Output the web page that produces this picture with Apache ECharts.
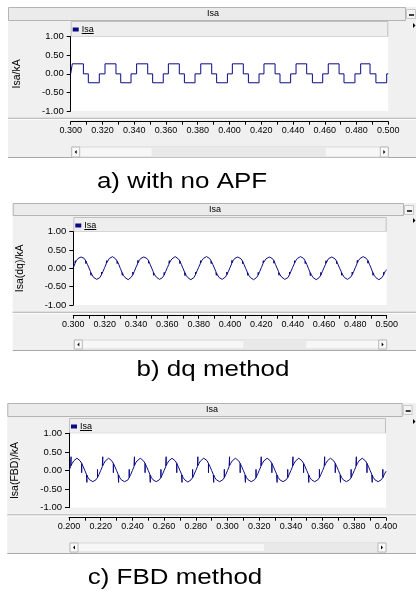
<!DOCTYPE html>
<html><head><meta charset="utf-8">
<script src="https://cdn.jsdelivr.net/npm/echarts@6/dist/echarts.min.js"></script>
<style>html,body{margin:0;padding:0;background:#fff;}#c{width:416px;height:593px;}</style>
</head><body><div id="c"></div>
<script>
// ---------- DATA ----------
// a) with no APF : step waveform, [time, value from this time on]
const stepTimesA = [0.300,0.3010,0.3080,0.3111,0.3180,0.3216,0.3285,0.3315,0.3380,0.3415,0.3485,0.3516,0.3583,
  0.3615,0.3684,0.3716,0.3783,0.3819,0.3888,0.3919,0.3987,0.4018,0.4087,0.4119,0.4186,0.4217,0.4287,0.4318,
  0.4385,0.4419,0.4486,0.4522,0.4587,0.4622,0.4690,0.4721,0.4790,0.4826,0.4885,0.4922,0.4990,0.5000];
const stepValsA = [0,0.27,0,-0.24,0,0.27,0,-0.24,0,0.27,0,-0.24,0,
  0.27,0,-0.24,0,0.27,0,-0.24,0,0.27,0,-0.24,0,0.27,0,-0.24,
  0,0.27,0,-0.24,0,0.27,0,-0.24,0,0.27,0,-0.24,0,0];

// b) dq method : samples every 1 ms from 0.300 s
const startB = 0.300, stepB = 0.001;
const valsB = [
 0.02,0.12,0.21,0.27,0.30,0.31,0.30,0.27,0.20,0.11,0.01,-0.09,-0.18,-0.25,-0.29,-0.30,-0.29,-0.25,-0.17,-0.08,
 0.02,0.12,0.20,0.27,0.30,0.32,0.30,0.26,0.20,0.11,0.00,-0.10,-0.19,-0.25,-0.29,-0.31,-0.29,-0.24,-0.17,-0.08,
 0.03,0.12,0.21,0.27,0.30,0.31,0.31,0.27,0.21,0.11,0.01,-0.09,-0.18,-0.24,-0.29,-0.30,-0.29,-0.25,-0.18,-0.08,
 0.02,0.11,0.20,0.26,0.30,0.32,0.30,0.26,0.20,0.10,0.00,-0.10,-0.19,-0.25,-0.29,-0.31,-0.30,-0.25,-0.17,-0.07,
 0.03,0.12,0.21,0.27,0.31,0.32,0.30,0.27,0.20,0.11,0.01,-0.09,-0.18,-0.25,-0.29,-0.30,-0.29,-0.24,-0.17,-0.08,
 0.02,0.12,0.21,0.27,0.30,0.31,0.30,0.26,0.20,0.10,0.00,-0.10,-0.19,-0.25,-0.30,-0.31,-0.29,-0.25,-0.18,-0.08,
 0.02,0.12,0.20,0.26,0.30,0.31,0.30,0.27,0.21,0.11,0.01,-0.09,-0.18,-0.24,-0.29,-0.30,-0.29,-0.25,-0.17,-0.07,
 0.03,0.12,0.21,0.27,0.30,0.32,0.31,0.27,0.20,0.11,0.00,-0.10,-0.18,-0.25,-0.29,-0.31,-0.30,-0.25,-0.18,-0.08,
 0.02,0.11,0.20,0.27,0.30,0.31,0.30,0.26,0.20,0.10,0.00,-0.09,-0.18,-0.25,-0.29,-0.30,-0.29,-0.24,-0.17,-0.08,
 0.02,0.12,0.21,0.27,0.30,0.32,0.30,0.27,0.21,0.11,0.01,-0.10,-0.19,-0.25,-0.30,-0.31,-0.29,-0.25,-0.18,-0.08,
 -0.04];
// glitches [time, base, tip]
const glitchB = [
 [0.3013,0.15,0.21],[0.3080,0.20,0.13],[0.3113,-0.12,-0.19],[0.3180,-0.17,-0.10],
 [0.3213,0.15,0.21],[0.3280,0.20,0.13],[0.3313,-0.12,-0.19],[0.3380,-0.17,-0.10],
 [0.3413,0.15,0.22],[0.3480,0.21,0.14],[0.3513,-0.12,-0.19],[0.3580,-0.18,-0.11],
 [0.3613,0.14,0.21],[0.3680,0.20,0.13],[0.3713,-0.12,-0.20],[0.3780,-0.17,-0.10],
 [0.3813,0.15,0.21],[0.3880,0.20,0.13],[0.3913,-0.12,-0.19],[0.3980,-0.17,-0.10],
 [0.4013,0.15,0.22],[0.4080,0.20,0.13],[0.4113,-0.12,-0.19],[0.4180,-0.18,-0.11],
 [0.4213,0.15,0.21],[0.4280,0.21,0.14],[0.4313,-0.12,-0.19],[0.4380,-0.17,-0.10],
 [0.4413,0.15,0.21],[0.4480,0.20,0.13],[0.4513,-0.12,-0.20],[0.4580,-0.18,-0.11],
 [0.4613,0.14,0.21],[0.4680,0.20,0.13],[0.4713,-0.12,-0.19],[0.4780,-0.17,-0.10],
 [0.4813,0.15,0.22],[0.4880,0.21,0.14],[0.4913,-0.12,-0.19],[0.4980,-0.18,-0.11]];

// c) FBD method : samples every 1 ms from 0.200 s
const startC = 0.200, stepC = 0.001;
const valsC = [
 0.00,0.10,0.19,0.26,0.31,0.33,0.31,0.26,0.19,0.10,0.00,-0.10,-0.19,-0.25,-0.29,-0.30,-0.29,-0.25,-0.19,-0.10,
 0.00,0.10,0.19,0.26,0.31,0.33,0.31,0.26,0.19,0.10,0.00,-0.10,-0.19,-0.25,-0.29,-0.30,-0.29,-0.26,-0.19,-0.10,
 0.00,0.10,0.20,0.26,0.31,0.33,0.31,0.26,0.19,0.10,0.00,-0.10,-0.19,-0.25,-0.29,-0.30,-0.29,-0.25,-0.19,-0.10,
 0.00,0.10,0.19,0.26,0.31,0.33,0.31,0.26,0.19,0.10,0.00,-0.10,-0.19,-0.25,-0.29,-0.31,-0.29,-0.25,-0.19,-0.10,
 0.00,0.10,0.19,0.26,0.31,0.33,0.31,0.27,0.19,0.10,0.00,-0.10,-0.19,-0.25,-0.29,-0.30,-0.29,-0.25,-0.19,-0.10,
 0.00,0.10,0.19,0.26,0.31,0.33,0.31,0.26,0.19,0.10,0.00,-0.10,-0.19,-0.25,-0.29,-0.30,-0.29,-0.25,-0.19,-0.10,
 0.00,0.10,0.19,0.26,0.31,0.33,0.31,0.26,0.19,0.10,0.00,-0.10,-0.19,-0.25,-0.29,-0.30,-0.29,-0.25,-0.19,-0.10,
 0.00,0.10,0.19,0.26,0.31,0.33,0.31,0.26,0.19,0.10,0.00,-0.10,-0.19,-0.25,-0.29,-0.30,-0.29,-0.25,-0.19,-0.10,
 0.00,0.10,0.19,0.26,0.31,0.33,0.31,0.26,0.19,0.10,0.00,-0.10,-0.19,-0.25,-0.29,-0.30,-0.29,-0.25,-0.19,-0.10,
 0.00,0.10,0.19,0.26,0.31,0.33,0.31,0.26,0.19,0.10,0.00,-0.10,-0.19,-0.25,-0.29,-0.30,-0.29,-0.25,-0.19,-0.10,
 -0.02];
const glitchC = [
 [0.2013,0.13,0.37],[0.2080,0.19,-0.06],[0.2113,-0.12,-0.32],[0.2180,-0.19,0.03],
 [0.2213,0.13,0.37],[0.2280,0.19,-0.06],[0.2313,-0.12,-0.32],[0.2380,-0.19,0.03],
 [0.2413,0.13,0.37],[0.2480,0.19,-0.06],[0.2513,-0.12,-0.32],[0.2580,-0.19,0.03],
 [0.2613,0.13,0.37],[0.2680,0.19,-0.06],[0.2713,-0.12,-0.32],[0.2780,-0.19,0.03],
 [0.2813,0.13,0.37],[0.2880,0.19,-0.06],[0.2913,-0.12,-0.32],[0.2980,-0.19,0.03],
 [0.3013,0.13,0.37],[0.3080,0.19,-0.06],[0.3113,-0.12,-0.32],[0.3180,-0.19,0.03],
 [0.3213,0.13,0.37],[0.3280,0.19,-0.06],[0.3313,-0.12,-0.32],[0.3380,-0.19,0.03],
 [0.3413,0.13,0.37],[0.3480,0.19,-0.06],[0.3513,-0.12,-0.32],[0.3580,-0.19,0.03],
 [0.3613,0.13,0.37],[0.3680,0.19,-0.06],[0.3713,-0.12,-0.32],[0.3780,-0.19,0.03],
 [0.3813,0.13,0.37],[0.3880,0.19,-0.06],[0.3913,-0.12,-0.32],[0.3980,-0.19,0.03]];

const seriesName = 'Isa';
const yNames = ['Isa/kA', 'Isa(dq)/kA', 'Isa(FBD)/kA'];
const captions = ['a) with no APF', 'b) dq method', 'c) FBD method'];
const xRanges = [[0.3, 0.5], [0.3, 0.5], [0.2, 0.4]];

// ---------- BUILD ----------
function sampled(start, step, vals, glitches) {
  const pts = vals.map((v, i) => [+(start + i * step).toFixed(4), v, 0]);
  glitches.forEach(g => {
    pts.push([g[0], g[1], 1]); pts.push([g[0], g[2], 2]); pts.push([g[0], g[1], 3]);
  });
  pts.sort((a, b) => (a[0] - b[0]) || (a[2] - b[2]));
  return pts.map(p => [p[0], p[1]]);
}
const dataA = stepTimesA.map((t, i) => [t, stepValsA[i]]);
const dataB = sampled(startB, stepB, valsB, glitchB);
const dataC = sampled(startC, stepC, valsC, glitchC);
const datas = [dataA, dataB, dataC];

const FONT = 'Liberation Sans, Arial, sans-serif';
const LINE = '#0a0a84';
const L = [
 {x0:8,   top:7,   barB:20,  barR:405, legT:21,  px:70.7, py:36.7,  pw:317.6, ph:74.3, off:10.7, sep:118.3, sT:147, sB:157, bot:157, tx:213, thumb:[81,255],  cx:182, cy:182, nameGap:48},
 {x0:12.7,top:203, barB:215, barR:403, legT:217, px:73.3, py:231.7, pw:313.4, ph:73.3, off:10.7, sep:312.3, sT:340, sB:349, bot:350, tx:215, thumb:[170,233], cx:213, cy:370, nameGap:48},
 {x0:7.3, top:403, barB:416, barR:401.7,legT:418, px:69,  py:433.3, pw:317,   ph:74.4, off:10,   sep:515,   sT:543, sB:552, bot:553, tx:212, thumb:[195,317], cx:175, cy:578, nameGap:48}
];

const grids = [], xAxes = [], yAxes = [], series = [], legends = [], els = [];
L.forEach((p, i) => {
  els.push({type:'rect', z:-10, shape:{x:p.x0, y:p.top, width:416 - p.x0, height:p.bot - p.top}, style:{fill:'#f0f0f0'}});
  els.push({type:'rect', z:-9, shape:{x:p.x0 + 0.5, y:p.top + 0.5, width:p.barR - p.x0, height:p.barB - p.top}, style:{fill:'#ebebeb', stroke:'#b4b4b4', lineWidth:1}});
  els.push({type:'text', z:5, x:p.tx, y:(p.top + p.barB) / 2 + 0.5, style:{text:seriesName, fontSize:9, fontFamily:FONT, fill:'#000', align:'center', verticalAlign:'middle'}});
  els.push({type:'rect', z:-8, shape:{x:p.barR + 1.5, y:p.top + 2.5, width:9, height:9}, style:{fill:'#f4f4f4', stroke:'#c8c8c8', lineWidth:1}});
  els.push({type:'line', z:5, shape:{x1:p.barR + 4, y1:p.top + 8, x2:p.barR + 9, y2:p.top + 8}, style:{stroke:'#000', lineWidth:1.5}});
  els.push({type:'polygon', z:5, shape:{points:[[413, p.barB + 3], [413, p.barB + 8], [415.5, p.barB + 5.5]]}, style:{fill:'#000'}});
  els.push({type:'rect', z:-8, shape:{x:p.px + 0.5, y:p.legT + 0.5, width:p.pw - 1, height:p.py - p.legT - 0.5}, style:{fill:'#eeeeee', stroke:'#c0c0c0', lineWidth:1}});
  els.push({type:'line', z:5, shape:{x1:p.px + 11, y1:p.legT + 12.5, x2:p.px + 23, y2:p.legT + 12.5}, style:{stroke:'#000', lineWidth:1}});
  els.push({type:'line', z:-7, shape:{x1:p.x0, y1:p.sep, x2:416, y2:p.sep}, style:{stroke:'#a0a0a0', lineWidth:1}});
  els.push({type:'line', z:-7, shape:{x1:p.x0, y1:p.sep + 1, x2:416, y2:p.sep + 1}, style:{stroke:'#ffffff', lineWidth:1}});
  const sx = p.px + 1, sw = p.pw - 1, sh = p.sB - p.sT;
  els.push({type:'rect', z:-6, shape:{x:sx, y:p.sT, width:sw, height:sh}, style:{fill:'#f7f7f7', stroke:'#d8d8d8', lineWidth:1}});
  els.push({type:'rect', z:-5, shape:{x:sx + p.thumb[0] - 1, y:p.sT + 0.5, width:p.thumb[1] - p.thumb[0], height:sh - 1}, style:{fill:'#e9e9e9'}});
  els.push({type:'rect', z:-4, shape:{x:sx, y:p.sT, width:8, height:sh}, style:{fill:'#fafafa', stroke:'#b8b8b8', lineWidth:1}});
  els.push({type:'rect', z:-4, shape:{x:sx + sw - 8, y:p.sT, width:8, height:sh}, style:{fill:'#fafafa', stroke:'#b8b8b8', lineWidth:1}});
  const my = p.sT + sh / 2;
  els.push({type:'polygon', z:5, shape:{points:[[sx + 5, my - 2], [sx + 5, my + 2], [sx + 3, my]]}, style:{fill:'#000'}});
  els.push({type:'polygon', z:5, shape:{points:[[sx + sw - 5, my - 2], [sx + sw - 5, my + 2], [sx + sw - 3, my]]}, style:{fill:'#000'}});
  els.push({type:'line', z:-7, shape:{x1:p.x0, y1:p.bot + 0.5, x2:416, y2:p.bot + 0.5}, style:{stroke:'#a8a8a8', lineWidth:1}});
  els.push({type:'text', z:5, x:p.cx, y:p.cy, scaleX:1.18, style:{text:captions[i], fontSize:22, fontFamily:FONT, fill:'#000', align:'center', verticalAlign:'middle'}});

  grids.push({left:p.px, top:p.py, width:p.pw, height:p.ph, show:true, backgroundColor:'#ffffff', borderWidth:0, containLabel:false});
  xAxes.push({gridIndex:i, type:'value', min:xRanges[i][0], max:xRanges[i][1], interval:0.02, offset:p.off,
    axisLine:{onZero:false, lineStyle:{color:'#000', width:1}},
    axisTick:{show:true, length:3, lineStyle:{color:'#000'}},
    minorTick:{show:true, splitNumber:2, length:3, lineStyle:{color:'#000'}},
    splitLine:{show:false},
    axisLabel:{formatter:v => v.toFixed(3), fontSize:9, fontFamily:FONT, color:'#000', margin:4}});
  yAxes.push({gridIndex:i, type:'value', min:-1, max:1, interval:0.5,
    axisLine:{show:true, lineStyle:{color:'#000', width:1}},
    axisTick:{show:true, length:4, lineStyle:{color:'#000'}},
    splitLine:{show:false},
    axisLabel:{formatter:v => v.toFixed(2), fontSize:9.5, fontFamily:FONT, color:'#000', margin:7},
    name:yNames[i], nameLocation:'middle', nameGap:p.nameGap,
    nameTextStyle:{fontSize:10.5, fontFamily:FONT, color:'#000'}});
  series.push({name:seriesName, type:'line', xAxisIndex:i, yAxisIndex:i, data:datas[i],
    step: i === 0 ? 'end' : false, showSymbol:false, symbol:'none', animation:false,
    lineStyle:{color:LINE, width:1}, itemStyle:{color:LINE}});
  legends.push({data:[seriesName], left:p.px + 2, top:p.legT + 4, icon:'rect', itemWidth:6, itemHeight:4,
    padding:0, selectedMode:false, textStyle:{fontSize:9, fontFamily:FONT, color:'#000', padding:[0,0,0,-2]}});
});

const chart = echarts.init(document.getElementById('c'), null, {renderer:'canvas', width:416, height:593});
chart.setOption({
  animation:false,
  backgroundColor:'#ffffff',
  grid:grids, xAxis:xAxes, yAxis:yAxes, series:series, legend:legends,
  graphic:{elements:els}
});
</script></body></html>
